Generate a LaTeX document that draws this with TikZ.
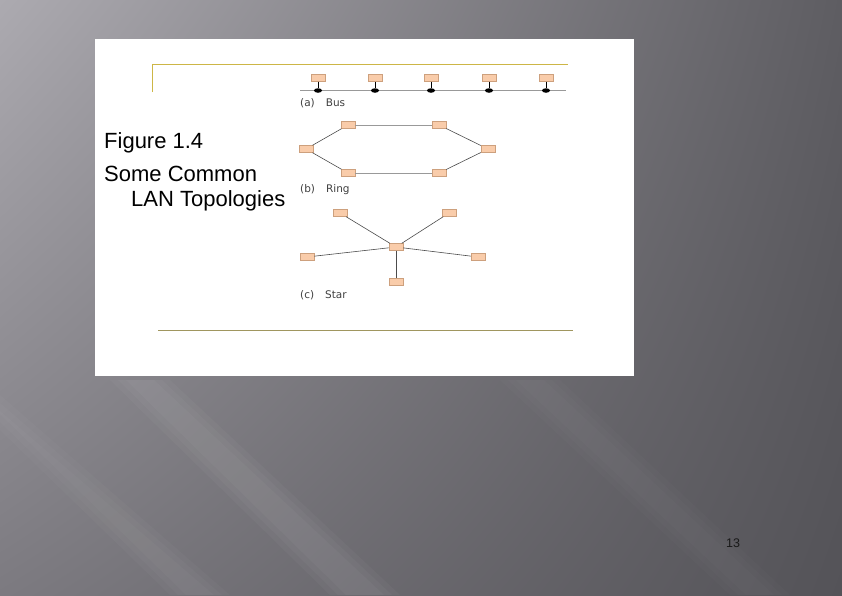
\documentclass[tikz,border=0pt]{standalone}
\usepackage{fontspec}
\setmainfont{Liberation Sans}
\newfontfamily\capfont{DejaVu Sans}
\usetikzlibrary{positioning,shapes.geometric,shadings}
\definecolor{peach}{RGB}{249,204,170}
\definecolor{peachline}{RGB}{205,160,125}
\definecolor{framegold}{RGB}{205,182,70}
\definecolor{frameolive}{RGB}{160,150,95}
\definecolor{bgtl}{RGB}{172,170,176}
\definecolor{bgtr}{RGB}{94,93,98}
\definecolor{bgbl}{RGB}{124,122,128}
\definecolor{bgbr}{RGB}{84,83,88}
\tikzset{
    station/.style={
      rectangle,
           draw=peachline, fill=peach, thin,
           inner sep=0pt,
           minimum width=14pt, minimum height=7pt,
           },
}
\tikzset{
    tap/.style={
      ellipse,
           fill=black,
           inner sep=0pt,
           minimum width=8pt, minimum height=4.5pt,
           },
}
\tikzset{
    caption/.style={
      anchor=base west,
           inner sep=0pt,
           font=\capfont\fontsize{10.5}{12}\selectfont,
           text=black!75,
           },
}
\tikzset{
    bigtext/.style={
      anchor=base west,
           inner sep=0pt,
           font=\fontsize{22}{26}\selectfont,
           },
}
\tikzset{
    link/.style={
      draw=black!70, line width=0.6pt,
           },
}

\begin{document}
\begin{tikzpicture}[x=1pt,y=-1pt]

\useasboundingbox (0,0) rectangle (842,595);
\shade[upper left=bgtl, upper right=bgtr, lower left=bgbl, lower right=bgbr] (0,0) rectangle (842,595);
\foreach \d in {0,8,16}{
  \fill[white,opacity=0.025] (0,395+\d) -- (0,430-\d) -- (170+\d,595) -- (230-\d,595) -- cycle;
  \fill[white,opacity=0.03] (110+\d,380) -- (170-\d,380) -- (400-\d,595) -- (330+\d,595) -- cycle;
  \fill[white,opacity=0.015] (500+\d,380) -- (560-\d,380) -- (790-\d,595) -- (730+\d,595) -- cycle;
}

\fill[white] (95,39) rectangle (634,376);

% frame lines
\draw[framegold,line width=1pt] (152,92) -- (152,64.5) -- (568,64.5);
\draw[frameolive,line width=1pt] (158,330) -- (573,330);

% text
\node[bigtext](fig) at (104,148){Figure 1.4};
\node[bigtext](some) at (104,181){Some Common};
\node[bigtext](lan) at (131,206){LAN Topologies};

% (a) bus
\coordinate (bl) at (300,90);
\coordinate (br) at (566,90);
\draw[black!40,line width=0.8pt] (bl) -- (br);
\foreach \i/\x in {1/318,2/375,3/431,4/489,5/546}{
  \node[station](b\i) at (\x,78){};
  \node[tap](t\i) at (\x,90.5){};
  \draw[black,line width=0.8pt] (b\i) -- (t\i);
}
\node[caption](ca) at (300,106){(a)\hspace{11pt}Bus};

% (b) ring
\node[station](r1) at (348,125){};
\node[station](r2) at (439,125){};
\node[station](r3) at (488,149){};
\node[station](r4) at (439,173){};
\node[station](r5) at (348,173){};
\node[station](r6) at (306,149){};

\path (r1) edge[link,draw=black!40](r2);
\path (r2) edge[link](r3);
\path (r3) edge[link](r4);
\path (r4) edge[link,draw=black!40](r5);
\path (r5) edge[link](r6);
\path (r6) edge[link](r1);
\node[caption](cb) at (300,192){(b)\hspace{11pt}Ring};

% (c) star
\node[station](hub) at (396,247){};
\node[station](s1) at (340,213){};
\node[station](s2) at (449,213){};
\node[station](s3) at (307,257){};
\node[station](s4) at (478,257){};
\node[station](s5) at (396,282){};

\foreach \s in {s1,s2,s3,s4,s5}
  \path (hub) edge[link](\s);
\node[caption](cc) at (300,298){(c)\hspace{11pt}Star};

% page number
\node[font=\fontsize{12.5}{14}\selectfont,text=black!90](pg) at (733,543){13};

\end{tikzpicture}
\end{document}
